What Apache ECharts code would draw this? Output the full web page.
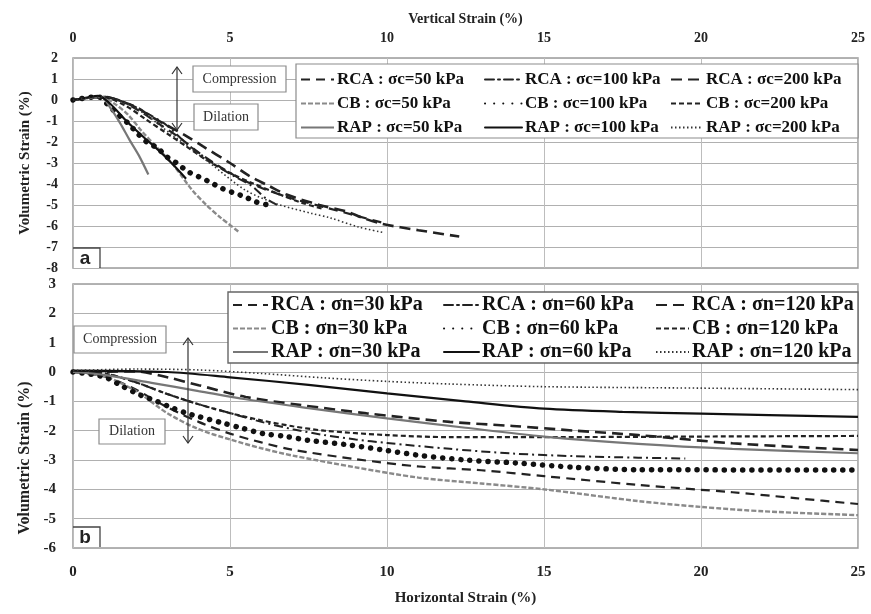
<!DOCTYPE html>
<html>
<head>
<meta charset="utf-8">
<script src="https://cdn.jsdelivr.net/npm/echarts@6/dist/echarts.min.js"></script>
<style>
html,body{margin:0;padding:0;background:#fff;}
#chart{width:871px;height:614px;}
</style>
</head>
<body>
<div id="chart"></div>
<script>
// ---------- Data (panel a: vertical strain vs volumetric strain) ----------
const xTicksA = [0, 5, 10, 15, 20, 25];
const yTicksA = [2, 1, 0, -1, -2, -3, -4, -5, -6, -7, -8];
const a_RCA50  = [[0,0],[0.5,0.1],[1,0.15],[1.6,-0.1],[2.2,-0.6],[2.8,-1.2],[3.4,-1.8],[4,-2.5],[4.7,-3.2],[5.4,-3.8],[6.2,-4.3],[7,-4.7],[8,-5.1],[9,-5.5],[10,-5.9]];
const a_RCA100 = [[0,0],[0.5,0.1],[1,0.15],[1.8,-0.2],[2.44,-0.7],[2.98,-1.2],[3.6,-2.05],[4.4,-2.95],[5.1,-3.6],[5.7,-4.1],[6.15,-4.7],[6.5,-5.0]];
const a_RCA200 = [[0,0],[0.5,0.1],[1,0.15],[1.5,-0.05],[2.03,-0.35],[2.44,-0.75],[2.86,-1.1],[3.56,-1.67],[4.13,-2.2],[5,-3.0],[5.6,-3.6],[6.25,-4.1],[6.8,-4.5],[7.85,-5.0],[8.7,-5.3],[9.2,-5.6],[9.85,-5.9],[11,-6.2],[12.3,-6.5]];
const a_CB50   = [[0,0],[0.5,0.1],[0.9,0.15],[1.3,-0.15],[1.75,-0.7],[2.2,-1.5],[2.7,-2.3],[3.2,-3.1],[3.8,-4.3],[4.25,-5.0],[4.7,-5.6],[5.3,-6.3]];
const a_CB100  = [[0,0],[0.4,0.1],[0.8,0.15],[1.1,-0.2],[1.43,-0.7],[1.75,-1.1],[2.06,-1.6],[2.35,-2.0],[2.7,-2.3],[2.98,-2.7],[3.3,-3.0],[3.65,-3.4],[4,-3.65],[4.35,-3.9],[4.73,-4.2],[5.08,-4.4],[5.46,-4.6],[5.84,-4.86],[6.22,-5.0]];
const a_CB200  = [[0,0],[0.5,0.1],[1,0.12],[1.7,-0.3],[2.3,-0.9],[3,-1.6],[3.6,-2.2],[4.3,-2.9],[5.1,-3.55],[5.7,-3.95],[6.5,-4.45],[7.3,-4.9],[8,-5.2]];
const a_RAP50  = [[0,0],[0.5,0.1],[0.9,0.15],[1.2,-0.4],[1.5,-1.1],[1.8,-1.9],[2.1,-2.65],[2.4,-3.55]];
const a_RAP100 = [[0,0],[0.4,0.1],[0.8,0.2],[1.2,-0.2],[1.7,-1.0],[2.2,-1.7],[2.8,-2.5],[3.2,-3.1],[3.6,-3.75]];
const a_RAP200 = [[0,0],[0.5,0.1],[1,0.15],[2,-0.4],[3.17,-1.67],[4.44,-3.1],[5.5,-4.3],[6.5,-4.95],[7.6,-5.4],[8.16,-5.6],[9.1,-6.05],[9.85,-6.3]];

// ---------- Data (panel b: horizontal strain vs volumetric strain) ----------
const xTicksB = [0, 5, 10, 15, 20, 25];
const yTicksB = [3, 2, 1, 0, -1, -2, -3, -4, -5, -6];
const b_RCA30  = [[0,0],[1,-0.15],[2,-0.6],[3,-1.2],[4,-1.7],[5,-2.1],[6,-2.4],[7,-2.65],[9,-2.97],[11,-3.22],[13,-3.35],[15,-3.55],[18,-3.85],[21,-4.1],[23,-4.3],[25,-4.5]];
const b_RCA60  = [[0,0],[1,-0.05],[2,-0.35],[3,-0.75],[4,-1.1],[5,-1.4],[6,-1.7],[7,-1.95],[8,-2.15],[9,-2.3],[10,-2.42],[12,-2.62],[14,-2.78],[16,-2.87],[18,-2.92],[19.5,-2.95]];
const b_RCA120 = [[0,0],[2,0.02],[3,-0.18],[4,-0.45],[5.5,-0.85],[7.2,-1.12],[9.35,-1.41],[12,-1.7],[14,-1.84],[16,-2.0],[18,-2.15],[21,-2.43],[25,-2.66]];
const b_CB30   = [[0,0],[1,-0.15],[2,-0.65],[3,-1.4],[4,-1.95],[5,-2.3],[6,-2.6],[7,-2.85],[9,-3.25],[11,-3.6],[13,-3.8],[15,-4.0],[18,-4.4],[20,-4.6],[22,-4.75],[25,-4.88]];
const b_CB60   = [[0,0],[1,-0.17],[1.6,-0.5],[2.13,-0.78],[2.67,-1.0],[3.1,-1.2],[3.6,-1.4],[4,-1.52],[4.7,-1.72],[5.4,-1.92],[6.05,-2.1],[6.8,-2.2],[7.5,-2.33],[8.8,-2.49],[9.9,-2.66],[10.95,-2.83],[12.5,-3.0],[14.1,-3.1],[16,-3.25],[18,-3.33],[25,-3.34]];
const b_CB120  = [[0,0],[1,-0.05],[2,-0.35],[3,-0.75],[4,-1.1],[5,-1.4],[6,-1.65],[7,-1.85],[8,-2.0],[10,-2.15],[12,-2.22],[15,-2.22],[20,-2.2],[25,-2.18]];
const b_RAP30  = [[0,0],[1,-0.1],[2.5,-0.37],[4,-0.65],[5.5,-0.93],[7.5,-1.23],[10,-1.58],[12.5,-1.9],[15,-2.2],[18,-2.45],[21,-2.62],[25,-2.77]];
const b_RAP60  = [[0,0.05],[3,0.0],[5,-0.18],[7.5,-0.44],[10,-0.73],[12.5,-1.0],[15,-1.25],[17.5,-1.36],[20,-1.42],[25,-1.53]];
const b_RAP120 = [[0,0.05],[2,0.1],[4,0.07],[6,-0.05],[8,-0.2],[10,-0.32],[12,-0.41],[15,-0.5],[20,-0.55],[25,-0.6]];

const namesA = [
  ['RCA : σc=50 kPa', 'CB : σc=50 kPa', 'RAP : σc=50 kPa'],
  ['RCA : σc=100 kPa', 'CB : σc=100 kPa', 'RAP : σc=100 kPa'],
  ['RCA : σc=200 kPa', 'CB : σc=200 kPa', 'RAP : σc=200 kPa']
];
const namesB = [
  ['RCA : σn=30 kPa', 'CB : σn=30 kPa', 'RAP : σn=30 kPa'],
  ['RCA : σn=60 kPa', 'CB : σn=60 kPa', 'RAP : σn=60 kPa'],
  ['RCA : σn=120 kPa', 'CB : σn=120 kPa', 'RAP : σn=120 kPa']
];

// ---------- Styles ----------
const SERIF = '"Liberation Serif", "DejaVu Serif", serif';
const styles = {
  rca50:  {color:'#222', width:2.2, type:[9,6]},
  rca100: {color:'#222', width:2,   type:[9,4,2,4]},
  rca200: {color:'#222', width:2.6, type:[11,6]},
  cb50:   {color:'#8a8a8a', width:2.4, type:[5,2]},
  cb100:  {color:'#111', width:5.5, type:[0.1,9], cap:'round'},
  cb200:  {color:'#222', width:2.2, type:[5,3]},
  rap50:  {color:'#777', width:2.2, type:'solid'},
  rap100: {color:'#111', width:2.2, type:'solid'},
  rap200: {color:'#333', width:1.6, type:[1.5,2.5]}
};

function mk(name, data, st, idx) {
  return {
    name: name, type: 'line', data: data, xAxisIndex: idx, yAxisIndex: idx,
    smooth: 0.3, symbol: 'none', showSymbol: false, silent: true,
    lineStyle: Object.assign({}, st),
    itemStyle: {color: st.color}
  };
}

const series = [
  mk(namesA[0][0], a_RCA50, styles.rca50, 0),
  mk(namesA[1][0], a_RCA100, styles.rca100, 0),
  mk(namesA[2][0], a_RCA200, styles.rca200, 0),
  mk(namesA[0][1], a_CB50, styles.cb50, 0),
  mk(namesA[1][1], a_CB100, styles.cb100, 0),
  mk(namesA[2][1], a_CB200, styles.cb200, 0),
  mk(namesA[0][2], a_RAP50, styles.rap50, 0),
  mk(namesA[1][2], a_RAP100, styles.rap100, 0),
  mk(namesA[2][2], a_RAP200, styles.rap200, 0),
  mk(namesB[0][0], b_RCA30, styles.rca50, 1),
  mk(namesB[1][0], b_RCA60, styles.rca100, 1),
  mk(namesB[2][0], b_RCA120, styles.rca200, 1),
  mk(namesB[0][1], b_CB30, styles.cb50, 1),
  mk(namesB[1][1], b_CB60, styles.cb100, 1),
  mk(namesB[2][1], b_CB120, styles.cb200, 1),
  mk(namesB[0][2], b_RAP30, styles.rap50, 1),
  mk(namesB[1][2], b_RAP60, styles.rap100, 1),
  mk(namesB[2][2], b_RAP120, styles.rap200, 1)
];

const labelStyle = {color:'#222', fontFamily:SERIF, fontWeight:'bold', fontSize:14};
const splitStyle = {show:true, lineStyle:{color:'#bdbdbd', width:1}};

function legendCol(names, left, top, fs, gap, iw, roundCap) {
  const lg = {
    orient:'vertical', left:left, top:top, padding:0, itemGap:gap,
    itemWidth:iw, itemHeight:12, data:names, selectedMode:false, z:60,
    textStyle:{fontFamily:SERIF, fontWeight:'bold', fontSize:fs, color:'#111', lineHeight:fs, padding:[0,0,0,-2]},
    itemStyle:{opacity:0}
  };
  if (roundCap) lg.lineStyle = {cap:'round'};
  return lg;
}

function boxText(text, x, y, w, h, fs) {
  return [
    {type:'rect', shape:{x:x, y:y, width:w, height:h}, style:{fill:'#fff', stroke:'#8c8c8c', lineWidth:1.2}, z:100},
    {type:'text', x:x + w/2, y:y + h/2, style:{text:text, fill:'#333', font:'normal ' + fs + 'px ' + SERIF, textAlign:'center', textVerticalAlign:'middle'}, z:101}
  ];
}

function dblArrow(x, y1, y2) {
  const hw = 5, hh = 7;
  return [
    {type:'line', shape:{x1:x, y1:y1, x2:x, y2:y2}, style:{stroke:'#333', lineWidth:1.2}, z:100},
    {type:'polyline', shape:{points:[[x-hw, y1+hh],[x, y1],[x+hw, y1+hh]]}, style:{stroke:'#333', lineWidth:1.2, fill:null}, z:100},
    {type:'polyline', shape:{points:[[x-hw, y2-hh],[x, y2],[x+hw, y2-hh]]}, style:{stroke:'#333', lineWidth:1.2, fill:null}, z:100}
  ];
}

function panelTag(t, x, y) {
  return [
    {type:'polyline', shape:{points:[[x, y],[x+27, y],[x+27, y+20]]}, style:{stroke:'#444', lineWidth:1.3, fill:null}, z:100},
    {type:'rect', shape:{x:x+1, y:y+1, width:25, height:19}, style:{fill:'#fff'}, z:99},
    {type:'text', x:x+12, y:y+11, style:{text:t, fill:'#222', font:'bold 19px "Liberation Sans", Arial, sans-serif', textAlign:'center', textVerticalAlign:'middle'}, z:101}
  ];
}

const graphics = [].concat(
  [{type:'rect', shape:{x:296, y:64, width:562, height:74}, style:{fill:'#fff', stroke:'#8c8c8c', lineWidth:1.2}, z:50}],
  [{type:'rect', shape:{x:228, y:292, width:630, height:71}, style:{fill:'#fff', stroke:'#666', lineWidth:1.4}, z:50}],
  boxText('Compression', 193, 66, 93, 26, 14),
  boxText('Dilation', 194, 104, 64, 26, 14),
  dblArrow(177, 67, 130),
  boxText('Compression', 74, 326, 92, 27, 14),
  boxText('Dilation', 99, 419, 66, 25, 14),
  dblArrow(188, 338, 443),
  panelTag('a', 73, 248),
  panelTag('b', 73, 527)
);

const option = {
  backgroundColor:'#fff',
  animation:false,
  grid:[
    {left:73, top:58, width:785, height:210, show:true, borderColor:'#9a9a9a', borderWidth:1.5, backgroundColor:'transparent'},
    {left:73, top:284, width:785, height:264, show:true, borderColor:'#9a9a9a', borderWidth:1.5, backgroundColor:'transparent'}
  ],
  xAxis:[
    {gridIndex:0, type:'value', position:'top', min:xTicksA[0], max:xTicksA[xTicksA.length-1], interval:5,
     name:'Vertical Strain (%)', nameLocation:'middle', nameGap:32,
     nameTextStyle:{fontFamily:SERIF, fontWeight:'bold', fontSize:14, color:'#222'},
     axisLine:{show:false}, axisTick:{show:false}, axisLabel:Object.assign({margin:13}, labelStyle), splitLine:splitStyle},
    {gridIndex:1, type:'value', position:'bottom', min:xTicksB[0], max:xTicksB[xTicksB.length-1], interval:5,
     name:'Horizontal Strain (%)', nameLocation:'middle', nameGap:43,
     nameTextStyle:{fontFamily:SERIF, fontWeight:'bold', fontSize:15, color:'#222'},
     axisLine:{show:false}, axisTick:{show:false}, axisLabel:Object.assign({margin:17}, labelStyle, {fontSize:15}), splitLine:splitStyle}
  ],
  yAxis:[
    {gridIndex:0, type:'value', min:yTicksA[yTicksA.length-1], max:yTicksA[0], interval:1,
     name:'Volumetric Strain (%)', nameLocation:'middle', nameGap:40,
     nameTextStyle:{fontFamily:SERIF, fontWeight:'bold', fontSize:15, color:'#222'},
     axisLine:{show:false}, axisTick:{show:false}, axisLabel:Object.assign({margin:15}, labelStyle), splitLine:{show:true, lineStyle:{color:'#b0b0b0', width:1.2}}},
    {gridIndex:1, type:'value', min:yTicksB[yTicksB.length-1], max:yTicksB[0], interval:1,
     name:'Volumetric Strain (%)', nameLocation:'middle', nameGap:40,
     nameTextStyle:{fontFamily:SERIF, fontWeight:'bold', fontSize:16, color:'#222', padding:[0,84,0,0]},
     axisLine:{show:false}, axisTick:{show:false}, axisLabel:Object.assign({margin:17}, labelStyle, {fontSize:15}), splitLine:{show:true, lineStyle:{color:'#b0b0b0', width:1.2}}}
  ],
  legend:[
    legendCol(namesA[0], 300, 71, 17, 7, 33, false),
    legendCol(namesA[1], 484, 71, 17, 7, 37, true),
    legendCol(namesA[2], 670, 71, 17, 7, 32, false),
    legendCol(namesB[0], 232, 295, 20, 3.5, 35, false),
    legendCol(namesB[1], 443, 295, 20, 3.5, 35, true),
    legendCol(namesB[2], 655, 295, 20, 3.5, 33, false)
  ],
  graphic:graphics,
  series:series
};

const chart = echarts.init(document.getElementById('chart'), null, {renderer:'canvas'});
chart.setOption(option);
</script>
</body>
</html>
